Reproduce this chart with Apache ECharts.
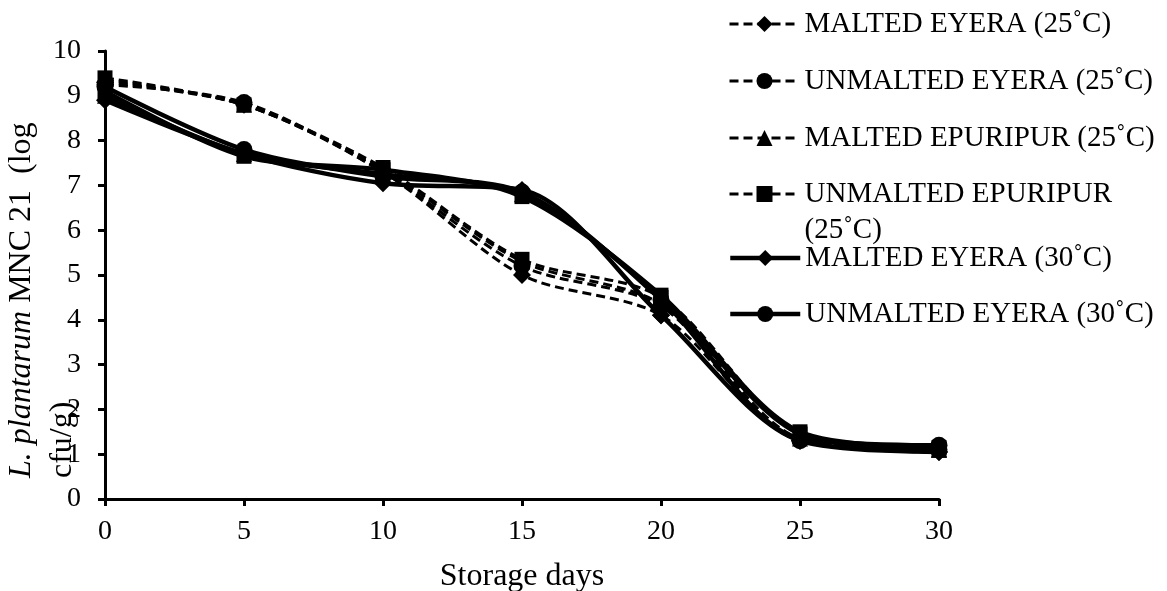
<!DOCTYPE html>
<html><head><meta charset="utf-8">
<script src="https://cdn.jsdelivr.net/npm/echarts@6/dist/echarts.min.js"></script>
<style>html,body{margin:0;padding:0;background:#fff}#c{width:1167px;height:591px}</style>
</head><body><div id="c"></div>
<script>
const days = [0, 5, 10, 15, 20, 25, 30];
const maltedEyera25 = [9.30, 8.80, 7.30, 5.00, 4.10, 1.30, 1.05];
const unmaltedEyera25 = [9.25, 8.85, 7.30, 5.20, 4.30, 1.30, 1.10];
const maltedEpuripur25 = [9.35, 8.80, 7.35, 5.30, 4.35, 1.35, 1.10];
const unmaltedEpuripur25 = [9.40, 8.80, 7.40, 5.35, 4.50, 1.45, 1.10];
const maltedEyera30 = [8.90, 7.70, 7.05, 6.90, 4.10, 1.30, 1.05];
const unmaltedEyera30 = [9.20, 7.80, 7.20, 6.85, 4.45, 1.35, 1.20];
const maltedEpuripur30 = [9.00, 7.70, 7.25, 6.80, 4.50, 1.45, 1.10];
const unmaltedEpuripur30 = [9.10, 7.65, 7.35, 6.75, 4.55, 1.50, 1.15];
const seriesNames = [
  'MALTED EYERA (25˚C)', 'UNMALTED EYERA (25˚C)', 'MALTED EPURIPUR (25˚C)', 'UNMALTED EPURIPUR (25˚C)',
  'MALTED EYERA (30˚C)', 'UNMALTED EYERA (30˚C)', 'MALTED EPURIPUR (30˚C)', 'UNMALTED EPURIPUR (30˚C)'
];
const seriesValues = [maltedEyera25, unmaltedEyera25, maltedEpuripur25, unmaltedEpuripur25,
  maltedEyera30, unmaltedEyera30, maltedEpuripur30, unmaltedEpuripur30];
const yTitleLine1Italic = 'L. plantarum';
const yTitleLine1Rest = ' MNC 21  (log';
const yTitleLine2 = 'cfu/g)';
const xTitle = 'Storage days';
const wrappedLegendLabel = 'UNMALTED EPURIPUR\n(25˚C)';

const FONT = 'Liberation Serif';
const symbols = ['diamond', 'circle', 'triangle', 'rect'];
const symSizes = [18, 17, 16, 15];

const series = seriesValues.map((vals, i) => {
  const dashed = i < 4;
  return {
    name: seriesNames[i],
    type: 'line',
    smooth: 0.3,
    data: days.map((d, j) => [d, vals[j]]),
    symbol: symbols[i % 4],
    symbolSize: symSizes[i % 4],
    itemStyle: {color: '#000'},
    lineStyle: {color: '#000', width: dashed ? 3 : 4.5, type: dashed ? [9, 5] : 'solid'},
    z: dashed ? 3 : 2
  };
});

const legendCenters = [24, 81, 138, 194, 258, 314];
const LH = 30;
const legends = legendCenters.map((c, i) => {
  const multi = i === 3;
  const dashed = i < 4;
  return {
    data: [seriesNames[i]],
    left: 728,
    top: multi ? c - 1.5 * 36 : c - LH / 2,
    padding: 0,
    itemWidth: 70,
    itemHeight: 20,
    itemGap: 0,
    selectedMode: false,
    lineStyle: {width: dashed ? 3 : 4.5},
    formatter: multi ? () => ' \n' + wrappedLegendLabel : undefined,
    textStyle: {fontFamily: FONT, fontSize: 29, color: '#000', lineHeight: multi ? 36 : LH}
  };
});

const chart = echarts.init(document.getElementById('c'), null, {renderer: 'canvas'});
chart.setOption({
  animation: false,
  backgroundColor: '#fff',
  grid: {left: 105, right: 228, top: 51, bottom: 92, containLabel: false, outerBoundsMode: 'none'},
  legend: legends,
  xAxis: {
    type: 'value', min: 0, max: 30, interval: 5,
    name: xTitle, nameLocation: 'middle', nameGap: 62,
    nameTextStyle: {fontFamily: FONT, fontSize: 32, color: '#000'},
    axisLine: {lineStyle: {color: '#000', width: 3}},
    axisTick: {show: true, length: 7, lineStyle: {color: '#000', width: 3}},
    axisLabel: {fontFamily: FONT, fontSize: 28, color: '#000', margin: 19},
    splitLine: {show: false}
  },
  yAxis: {
    type: 'value', min: 0, max: 10, interval: 1,
    axisLine: {show: true, lineStyle: {color: '#000', width: 3}},
    axisTick: {show: true, length: 7, lineStyle: {color: '#000', width: 3}},
    axisLabel: {fontFamily: FONT, fontSize: 28, color: '#000', margin: 24},
    splitLine: {show: false}
  },
  graphic: [{
    type: 'text',
    x: 1, y: 478,
    rotation: Math.PI / 2,
    z: 10,
    style: {
      text: '{i|' + yTitleLine1Italic + '}' + yTitleLine1Rest + '\n' + yTitleLine2,
      fontFamily: FONT, fontSize: 32, fill: '#000', lineHeight: 41,
      align: 'left', verticalAlign: 'top',
      rich: {i: {fontStyle: 'italic', fontFamily: FONT, fontSize: 32, lineHeight: 41}}
    }
  }],
  series: series
});
</script>
</body></html>
